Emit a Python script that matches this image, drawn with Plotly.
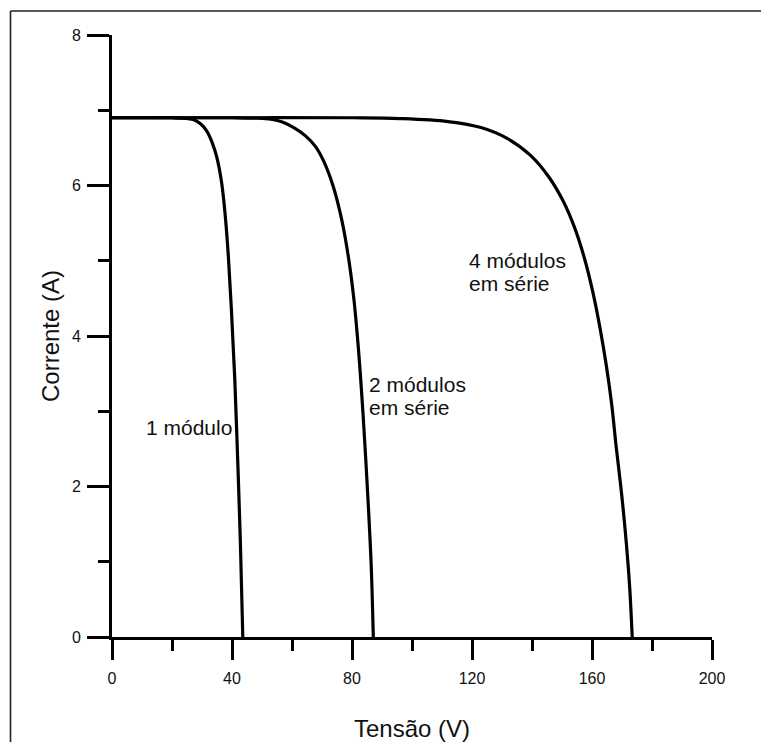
import plotly.graph_objects as go

# ---- data ----
v_1mod = [0, 10, 20, 25, 27.5, 29.5, 31.5, 33.3, 34.9, 36.5, 37.7, 38.8, 39.8, 40.9, 41.9, 42.8, 43.6]
i_1mod = [6.90, 6.90, 6.90, 6.89, 6.87, 6.82, 6.73, 6.58, 6.38, 6.05, 5.62, 5.05, 4.35, 3.45, 2.35, 1.25, 0.0]

v_2mod = [0, 20, 40, 48, 53, 57, 61, 64.5, 67.8, 70.6, 73.8, 76.6, 78.8, 80.6, 82.2, 83.7, 85.3, 86.4, 87.1]
i_2mod = [6.90, 6.90, 6.90, 6.895, 6.88, 6.84, 6.76, 6.66, 6.52, 6.32, 5.98, 5.54, 5.05, 4.50, 3.80, 2.95, 1.85, 0.95, 0.0]

v_4mod = [0, 40, 80, 96, 112.0, 123.0, 132.0, 139.5, 145.5, 150.3, 154.2, 157.5, 160.3,
          162.7, 164.8, 166.6, 168.0, 169.6, 171.1, 172.5, 173.4]
i_4mod = [6.90, 6.90, 6.90, 6.89, 6.85, 6.77, 6.62, 6.40, 6.12, 5.80, 5.44, 5.03, 4.58,
          4.10, 3.60, 3.08, 2.55, 2.00, 1.40, 0.70, 0.0]

x_ticks = [0, 40, 80, 120, 160, 200]
y_ticks = [0, 2, 4, 6, 8]

label_texts = ["1 módulo", "2 módulos", "em série", "4 módulos", "em série"]
label_x = [10.7, 84.9, 84.9, 118.4, 118.4]
label_y = [2.79, 3.36, 3.05, 5.0, 4.70]

x_title = "Tensão (V)"
y_title = "Corrente (A)"

FONT = "Arial, Liberation Sans, sans-serif"
INK = "#111111"

fig = go.Figure()
for vx, iy in [(v_1mod, i_1mod), (v_2mod, i_2mod), (v_4mod, i_4mod)]:
    fig.add_trace(go.Scatter(
        x=vx, y=iy, mode="lines",
        line=dict(color="black", width=3.2, shape="spline", smoothing=1.0),
        showlegend=False, hoverinfo="skip"))

for t, ax_, ay_ in zip(label_texts, label_x, label_y):
    fig.add_annotation(x=ax_, y=ay_, text=t, showarrow=False, xanchor="left",
                       yanchor="middle", font=dict(family=FONT, size=21, color=INK))

# outer frame: only top and left edges are visible in the reference
frame_x = (10.5 - 112) / 600
frame_y = (636.7 - 11) / 601.7
frame_right = (761 - 112) / 600
fig.add_shape(type="line", xref="paper", yref="paper",
              x0=frame_x, x1=frame_right, y0=frame_y, y1=frame_y,
              line=dict(color="#222222", width=1.6), layer="below")
fig.add_shape(type="line", xref="paper", yref="paper",
              x0=frame_x, x1=frame_x, y0=frame_y, y1=-0.18,
              line=dict(color="#222222", width=1.6), layer="below")

axis_common = dict(
    showline=True, linecolor="black", linewidth=3, mirror=False, automargin=False,
    showgrid=False, zeroline=False, ticks="outside", tickwidth=3, tickcolor="black",
    tickfont=dict(family=FONT, size=16, color=INK),
)

fig.update_xaxes(
    range=[0, 200], tickvals=x_ticks, ticktext=[str(v) for v in x_ticks], ticklen=20,
    minor=dict(dtick=20, tick0=0, ticks="outside", ticklen=11, tickwidth=3, tickcolor="black", showgrid=False),
    title=dict(text=x_title, font=dict(family=FONT, size=24, color=INK), standoff=37),
    ticklabelstandoff=5,
    **axis_common)
fig.update_yaxes(
    range=[0, 8], tickvals=y_ticks, ticktext=[str(v) for v in y_ticks], ticklen=22,
    minor=dict(dtick=1, tick0=0, ticks="outside", ticklen=11, tickwidth=3, tickcolor="black", showgrid=False),
    title=dict(text=y_title, font=dict(family=FONT, size=24, color=INK), standoff=6),
    ticklabelstandoff=3,
    **axis_common)

fig.update_layout(
    width=762, height=742,
    margin=dict(l=112, r=50, t=35, b=105, pad=0),
    paper_bgcolor="white", plot_bgcolor="white",
    font=dict(family=FONT, color=INK),
)

fig.write_html(
    "out.html",
    config={"displayModeBar": False},
    post_script=(
        "document.documentElement.style.overflow='hidden';"
        "document.body.style.margin='0';document.body.style.overflow='hidden';"
    ),
)
